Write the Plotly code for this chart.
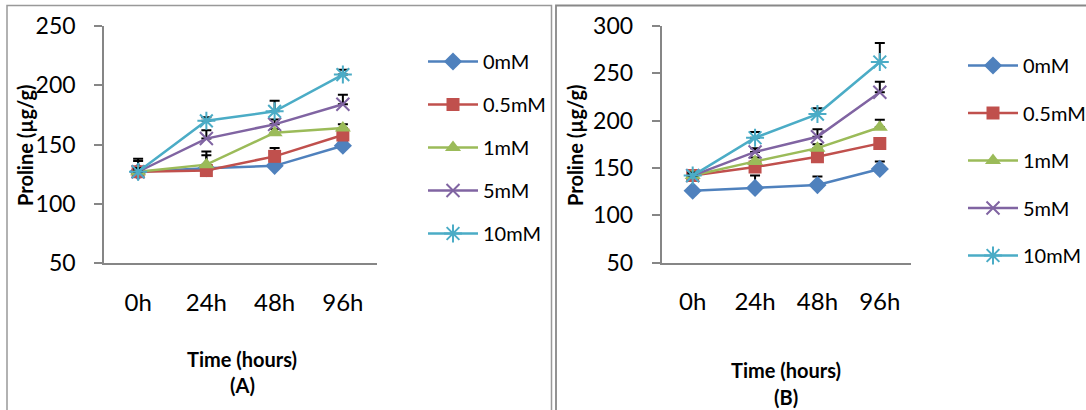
import plotly.graph_objects as go

W, H = 1086, 410

# ---------------- data ----------------
times = ["0h", "24h", "48h", "96h"]
series_names = ["0mM", "0.5mM", "1mM", "5mM", "10mM"]

# Panel A
a_0mM = [127, 130, 132, 149]
a_05mM = [127, 128, 140, 158]
a_1mM = [127, 133, 160, 164]
a_5mM = [127, 155, 167, 184]
a_10mM = [127, 170, 178, 209]
a_err_0mM = [11, 11, 3, 3]
a_err_05mM = [9, 3, 7, 6]
a_err_1mM = [3, 11, 3, 3]
a_err_5mM = [3, 7, 4, 8]
a_err_10mM = [3, 3, 9, 4]

# Panel B
b_0mM = [126, 129, 132, 149]
b_05mM = [142, 151, 162, 176]
b_1mM = [142, 157, 171, 193]
b_5mM = [142, 167, 183, 230]
b_10mM = [142, 182, 207, 262]
b_err_0mM = [3, 13, 9, 8]
b_err_05mM = [3, 5, 4, 5]
b_err_1mM = [3, 4, 4, 8]
b_err_5mM = [3, 4, 8, 11]
b_err_10mM = [3, 6, 6, 20]

y_ticks_a = [50, 100, 150, 200, 250]
y_ticks_b = [50, 100, 150, 200, 250, 300]

# ---------------- styles ----------------
colors = ["#4F81BD", "#C0504D", "#9BBB59", "#8064A2", "#4BACC6"]
symbols = ["diamond", "square", "triangle-up", "x-thin-open", "asterisk-open"]
msizes = [14, 13, 14, 13, 15]
FONT = "Lato"
AXC = "#868686"


def px_x(p):
    return p / W


def px_y(p):
    return 1 - p / H


fig = go.Figure()

A_vals = [a_0mM, a_05mM, a_1mM, a_5mM, a_10mM]
A_errs = [a_err_0mM, a_err_05mM, a_err_1mM, a_err_5mM, a_err_10mM]
B_vals = [b_0mM, b_05mM, b_1mM, b_5mM, b_10mM]
B_errs = [b_err_0mM, b_err_05mM, b_err_1mM, b_err_5mM, b_err_10mM]


def add_panel(vals, errs, xa, ya, legend, grp):
    for i, name in enumerate(series_names):
        open_sym = symbols[i].endswith("open")
        fig.add_trace(go.Scatter(
            x=times, y=vals[i], name=name, mode="lines+markers",
            xaxis=xa, yaxis=ya, legend=legend, legendgroup=f"{grp}{i}",
            line=dict(color=colors[i], width=2.5),
            marker=dict(symbol=symbols[i], size=msizes[i], color=colors[i],
                        line=dict(color=colors[i], width=2 if open_sym else 0)),
            error_y=dict(type="data", symmetric=False, array=errs[i],
                         arrayminus=[0] * len(errs[i]), color="black",
                         thickness=2, width=5),
        ))


add_panel(A_vals, A_errs, "x", "y", "legend", "a")
add_panel(B_vals, B_errs, "x2", "y2", "legend2", "b")

xcommon = dict(type="category", range=[-0.5, 3.5], showline=True, linecolor=AXC,
               linewidth=1.5, ticks="", showgrid=False, zeroline=False,
               tickfont=dict(family=FONT, size=24, color="black"),
               ticklabelstandoff=17, fixedrange=True)
ycommon = dict(showline=True, linecolor=AXC, linewidth=1.5, ticks="outside",
               ticklen=8, tickwidth=1.5, tickcolor=AXC, showgrid=False,
               zeroline=False, tickfont=dict(family=FONT, size=23, color="black"),
               ticklabelstandoff=14, fixedrange=True)

legcommon = dict(xanchor="left", yanchor="top", bgcolor="rgba(0,0,0,0)",
                 itemwidth=50,
                 font=dict(family=FONT, size=20, color="black"))

fig.update_layout(
    width=W, height=H,
    margin=dict(l=0, r=0, t=0, b=0, pad=0, autoexpand=False),
    paper_bgcolor="white", plot_bgcolor="white",
    font=dict(family=FONT, color="black"),
    xaxis=dict(domain=[px_x(104), px_x(377)], anchor="y", **xcommon),
    yaxis=dict(domain=[px_y(263), px_y(26)], anchor="x", range=[50, 250],
               tickvals=y_ticks_a, **ycommon),
    xaxis2=dict(domain=[px_x(661.5), px_x(911)], anchor="y2", **xcommon),
    yaxis2=dict(domain=[px_y(262.7), px_y(26)], anchor="x2", range=[50, 300],
                tickvals=y_ticks_b, **ycommon),
    legend=dict(x=px_x(423), y=px_y(42), tracegroupgap=14, **legcommon),
    legend2=dict(x=px_x(963), y=px_y(46), tracegroupgap=18.5, **legcommon),
    showlegend=True,
)

# panel frames
fig.add_shape(type="rect", xref="paper", yref="paper",
              x0=px_x(7), x1=px_x(551.5), y0=px_y(420), y1=px_y(5.5),
              line=dict(color="#999999", width=1.5), layer="below")
fig.add_shape(type="rect", xref="paper", yref="paper",
              x0=px_x(556), x1=px_x(1095), y0=px_y(420), y1=px_y(5.5),
              line=dict(color="#888888", width=1.8), layer="below")

# axis titles
title_font = dict(family=FONT, size=20, color="black")
ann = [
    dict(text="<b>Proline (µg/g)</b>", x=px_x(25), y=px_y(145), textangle=-90),
    dict(text="<b>Proline (µg/g)</b>", x=px_x(575), y=px_y(145), textangle=-90),
    dict(text="<b>Time (hours)</b>", x=px_x(242), y=px_y(359)),
    dict(text="<b>(A)</b>", x=px_x(242), y=px_y(385)),
    dict(text="<b>Time (hours)</b>", x=px_x(786), y=px_y(370)),
    dict(text="<b>(B)</b>", x=px_x(786), y=px_y(397)),
]
for a in ann:
    fig.add_annotation(xref="paper", yref="paper", showarrow=False,
                       xanchor="center", yanchor="middle", font=title_font, **a)

fig.write_html("out.html")
